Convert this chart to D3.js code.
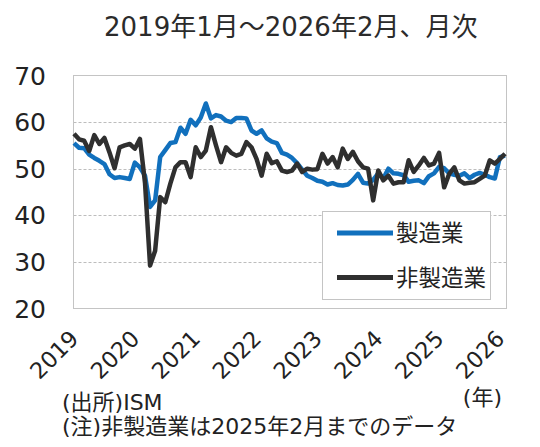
<!DOCTYPE html>
<html lang="ja">
<head>
<meta charset="UTF-8">
<title>ISM 製造業・非製造業</title>
<script src="https://d3js.org/d3.v7.min.js"></script>
<style>
    body { margin: 0; background: #ffffff; }
    svg { display: block; font-family: "DejaVu Sans", "Noto Sans CJK JP", sans-serif; }
</style>
</head>
<body>
<svg width="540" height="447"></svg>
<script>
    // 2019年1月～2026年2月（月次）
    const yearLabels = ["2019", "2020", "2021", "2022", "2023", "2024", "2025", "2026"];
    const yTicks = [20, 30, 40, 50, 60, 70];

    const seriesNames = ["製造業", "非製造業"];

    const manufacturing = [
        55.5, 54.5, 54.4, 53.0, 52.3, 51.7, 51.0, 48.8, 48.0, 48.2, 48.0, 47.8,
        51.3, 50.3, 48.5, 41.8, 43.2, 52.5, 54.0, 55.5, 55.7, 58.8, 57.5, 60.5,
        59.3, 61.0, 64.0, 60.8, 61.5, 61.2, 60.3, 60.0, 60.9, 60.9, 60.8, 58.2,
        57.5, 58.2, 56.5, 55.8, 55.5, 53.4, 53.0, 52.3, 51.2, 49.8, 48.5, 48.0,
        47.4, 47.2, 46.6, 46.9, 46.5, 46.4, 46.6, 47.6, 48.9, 47.0, 46.8, 47.6,
        49.0, 47.9, 50.0, 49.0, 48.9, 48.6, 47.2, 47.4, 47.5, 46.9, 48.4, 49.0,
        50.4, 50.1, 49.0, 48.7, 48.5, 49.0, 48.0, 48.7, 49.1, 48.7, 48.2, 47.9,
        52.5, 52.8
    ];

    const services = [
        57.5, 56.3, 56.0, 53.8, 57.2, 55.3, 56.6, 53.5, 50.1, 54.6, 55.0, 55.3,
        54.3, 56.4, 47.0, 29.2, 32.4, 43.9, 42.8, 46.8, 50.3, 51.4, 51.4, 48.2,
        54.6, 52.5, 53.9, 58.9, 55.0, 51.4, 54.6, 53.4, 52.8, 53.2, 55.7, 54.6,
        52.1, 48.5, 53.2, 51.2, 51.6, 49.6, 49.3, 49.6, 51.1, 49.3, 50.0, 49.8,
        49.9, 53.2, 51.1, 52.5, 50.3, 54.3, 52.1, 53.6, 51.6, 50.3, 50.0, 43.2,
        49.6, 47.5, 48.5, 46.8, 47.1, 47.1, 51.8, 49.3, 50.7, 52.3, 50.7, 51.1,
        53.4, 46.0, 48.9, 50.3, 47.5, 46.8, 47.0, 47.1, 47.8, 48.5, 51.8, 51.1,
        52.1, 53.2
    ];

    const svg = d3.select("svg");
    const plotLeft = 73.5, plotRight = 506.5, plotTop = 75.5, plotBottom = 308.5;

    const x = d3.scaleLinear().domain([0, manufacturing.length - 1]).range([74, 505]);
    const y = d3.scaleLinear().domain([20, 70]).range([plotBottom, plotTop]);

    // タイトル
    svg.append("text")
        .attr("x", 104).attr("y", 36)
        .attr("font-size", 26)
        .attr("fill", "#2b2b2b")
        .text("2019年1月～2026年2月、月次");

    // 目盛線
    svg.append("g")
        .selectAll("line")
        .data(yTicks.filter(d => d > 20 && d < 70))
        .join("line")
        .attr("x1", plotLeft).attr("x2", plotRight)
        .attr("y1", d => Math.round(y(d)) + 0.5)
        .attr("y2", d => Math.round(y(d)) + 0.5)
        .attr("stroke", "#bdbdbd")
        .attr("stroke-dasharray", "3,2");

    svg.append("rect")
        .attr("x", plotLeft).attr("y", plotTop)
        .attr("width", plotRight - plotLeft).attr("height", plotBottom - plotTop)
        .attr("fill", "none")
        .attr("stroke", "#c4c4c4");

    // Y軸ラベル
    svg.append("g")
        .selectAll("text")
        .data(yTicks)
        .join("text")
        .attr("x", 46)
        .attr("y", d => y(d))
        .attr("dy", "0.36em")
        .attr("text-anchor", "end")
        .attr("font-size", 25)
        .attr("fill", "#222")
        .text(d => d);

    // X軸ラベル
    svg.append("g")
        .selectAll("text")
        .data(yearLabels)
        .join("text")
        .attr("transform", (d, i) => `translate(${x(i * 12) + 6},${340}) rotate(-45)`)
        .attr("text-anchor", "end")
        .attr("font-size", 22.5)
        .attr("fill", "#222")
        .text(d => d);

    const line = d3.line()
        .x((d, i) => x(i))
        .y(d => y(d));

    svg.append("path")
        .datum(manufacturing)
        .attr("d", line)
        .attr("fill", "none")
        .attr("stroke", "#1170bd")
        .attr("stroke-width", 4.5)
        .attr("stroke-linejoin", "round");

    svg.append("path")
        .datum(services)
        .attr("d", line)
        .attr("fill", "none")
        .attr("stroke", "#2f2f2f")
        .attr("stroke-width", 4.5)
        .attr("stroke-linejoin", "round");

    // 凡例
    const legend = svg.append("g");
    legend.append("rect")
        .attr("x", 322.5).attr("y", 211.5)
        .attr("width", 168).attr("height", 88)
        .attr("fill", "#fff")
        .attr("stroke", "#c4c4c4");

    const colors = ["#1170bd", "#2f2f2f"];
    seriesNames.forEach((name, i) => {
        const ly = 233 + i * 44.5;
        legend.append("line")
            .attr("x1", 337).attr("x2", 393)
            .attr("y1", ly).attr("y2", ly)
            .attr("stroke", colors[i])
            .attr("stroke-width", 5);
        legend.append("text")
            .attr("x", 396).attr("y", ly)
            .attr("dy", "0.36em")
            .attr("font-size", 22.5)
            .attr("fill", "#222")
            .text(name);
    });

    // 注記
    svg.append("text")
        .attr("x", 502).attr("y", 405)
        .attr("text-anchor", "end")
        .attr("font-size", 22)
        .attr("fill", "#222")
        .text("(年)");

    svg.append("text")
        .attr("x", 62).attr("y", 410)
        .attr("font-size", 22)
        .attr("fill", "#222")
        .text("(出所)ISM");

    svg.append("text")
        .attr("x", 62).attr("y", 434)
        .attr("font-size", 22)
        .attr("fill", "#222")
        .text("(注)非製造業は2025年2月までのデータ");
</script>
</body>
</html>
